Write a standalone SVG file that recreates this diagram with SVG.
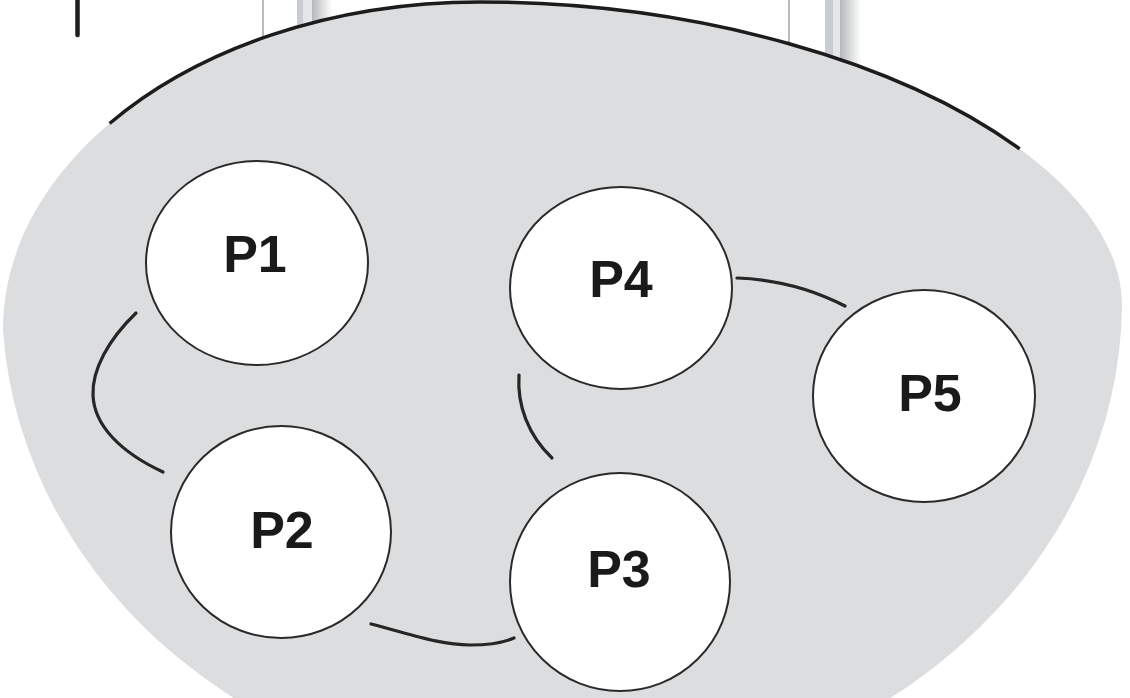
<svg xmlns="http://www.w3.org/2000/svg" width="1130" height="698" viewBox="0 0 1130 698">
<defs>
<linearGradient id="shade" x1="0" y1="0" x2="1" y2="0">
<stop offset="0" stop-color="#b4b8bc"/>
<stop offset="1" stop-color="#ffffff"/>
</linearGradient>
<style>
.node{fill:#ffffff;stroke:#2a2a2a;stroke-width:2}
.lbl{font-family:"Liberation Sans",Arial,sans-serif;font-weight:bold;font-size:52px;fill:#1a1a1a;text-anchor:middle}
.conn{fill:none;stroke:#262626;stroke-width:3.2;stroke-linecap:round}
.fl{fill:none;stroke:#b6babe;stroke-width:2}
</style>
</defs>
<rect width="1130" height="698" fill="#ffffff"/>
<g id="frame">
<line class="fl" x1="263" y1="0" x2="263" y2="60"/>
<rect x="297" y="0" width="6" height="60" fill="#c9ccd0"/>
<rect x="303" y="0" width="9" height="60" fill="#e4e6e8"/>
<rect x="312" y="0" width="20" height="60" fill="url(#shade)"/>
<line class="fl" x1="789" y1="0" x2="789" y2="70"/>
<rect x="825" y="0" width="8" height="70" fill="#c9ccd0"/>
<rect x="833" y="0" width="7" height="70" fill="#e4e6e8"/>
<rect x="840" y="0" width="21" height="70" fill="url(#shade)"/>
<line x1="77.5" y1="0" x2="77.5" y2="35" stroke="#1e1e1e" stroke-width="4.5" stroke-linecap="round"/>
</g>
<g id="region">
<path d="M 3 330 C 3 149 217 2 480 2 C 820 2 1122 150 1122 305 A 560 490 0 0 1 3 330 Z" fill="#dcdddf"/>
<path d="M 3 330 C 3 149 217 2 480 2 C 820 2 1122 150 1122 305" fill="none" stroke="#1c1c1c" stroke-width="3.5" stroke-dasharray="0 240 965 3000"/>
</g>
<g id="connectors">
<path class="conn" d="M 136 313 C 108 340 92 370 93 395 C 94 425 120 452 163 472"/>
<path class="conn" d="M 371 624 C 410 634 440 645 470 645 C 490 645 505 642 514 638"/>
<path class="conn" d="M 519 375 C 517 405 528 435 552 458"/>
<path class="conn" d="M 737 278 Q 795 280 845 306"/>
</g>
<g id="P1">
<ellipse class="node" cx="257" cy="263" rx="111" ry="102"/>
<text class="lbl" x="255" y="272">P1</text>
</g>
<g id="P2">
<ellipse class="node" cx="281" cy="532" rx="110" ry="106"/>
<text class="lbl" x="282" y="548">P2</text>
</g>
<g id="P3">
<ellipse class="node" cx="620" cy="582" rx="110" ry="109"/>
<text class="lbl" x="619" y="587">P3</text>
</g>
<g id="P4">
<ellipse class="node" cx="621" cy="288" rx="111" ry="101"/>
<text class="lbl" x="621" y="297">P4</text>
</g>
<g id="P5">
<ellipse class="node" cx="924" cy="396" rx="111" ry="106"/>
<text class="lbl" x="930" y="411">P5</text>
</g>
</svg>
